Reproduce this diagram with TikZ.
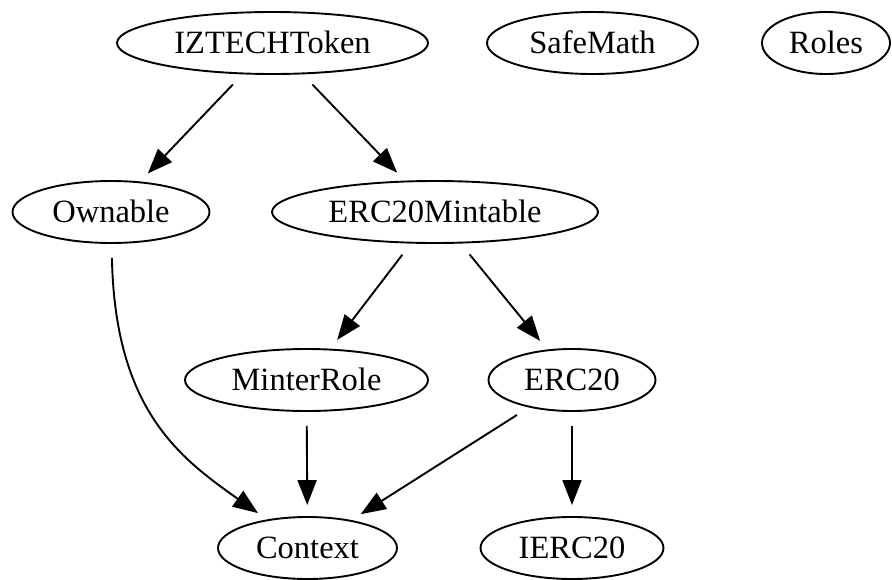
\documentclass[tikz,border=0pt]{standalone}
\usepackage{fontspec}
\setmainfont{Liberation Serif}
\usetikzlibrary{shapes.geometric,arrows.meta}
\tikzset{
  cls/.style={ellipse, draw, line width=1.9pt, inner sep=0pt,
    font=\fontsize{32.5}{38}\selectfont, text height=21.5pt, text depth=0pt},
  dep/.style={-{Triangle[length=25pt,width=19pt]}, line width=1.9pt,
    shorten <=14pt, shorten >=11pt}
}
\begin{document}
\begin{tikzpicture}[x=1pt,y=-1pt]
\useasboundingbox (0,0) rectangle (892,579);
\node[cls, minimum width=311pt, minimum height=62pt] (iz) at (272.5,43) {IZTECHToken};
\node[cls, minimum width=211pt, minimum height=62pt] (sm) at (592.5,43) {SafeMath};
\node[cls, minimum width=128pt, minimum height=62pt] (ro) at (826,43) {Roles};
\node[cls, minimum width=197pt, minimum height=62pt] (ow) at (111,212) {Ownable};
\node[cls, minimum width=326pt, minimum height=62pt] (em) at (435,212) {ERC20Mintable};
\node[cls, minimum width=243pt, minimum height=62pt] (mr) at (306.5,380) {MinterRole};
\node[cls, minimum width=167pt, minimum height=62pt] (e2) at (572,380) {ERC20};
\node[cls, minimum width=183pt, minimum height=62pt] (ie) at (572,548) {IERC20};
\node[cls, minimum width=179pt, minimum height=62pt] (cx) at (307.5,548) {Context};
\draw[dep] (iz) -- (ow);
\draw[dep] (iz) -- (em);
\draw[dep] (em) -- (mr);
\draw[dep] (em) -- (e2);
\draw[dep] (ow) .. controls (115,410) and (180,458) .. (cx);
\draw[dep] (mr) -- (cx);
\draw[dep] (e2) -- (cx);
\draw[dep] (e2) -- (ie);
\end{tikzpicture}
\end{document}
